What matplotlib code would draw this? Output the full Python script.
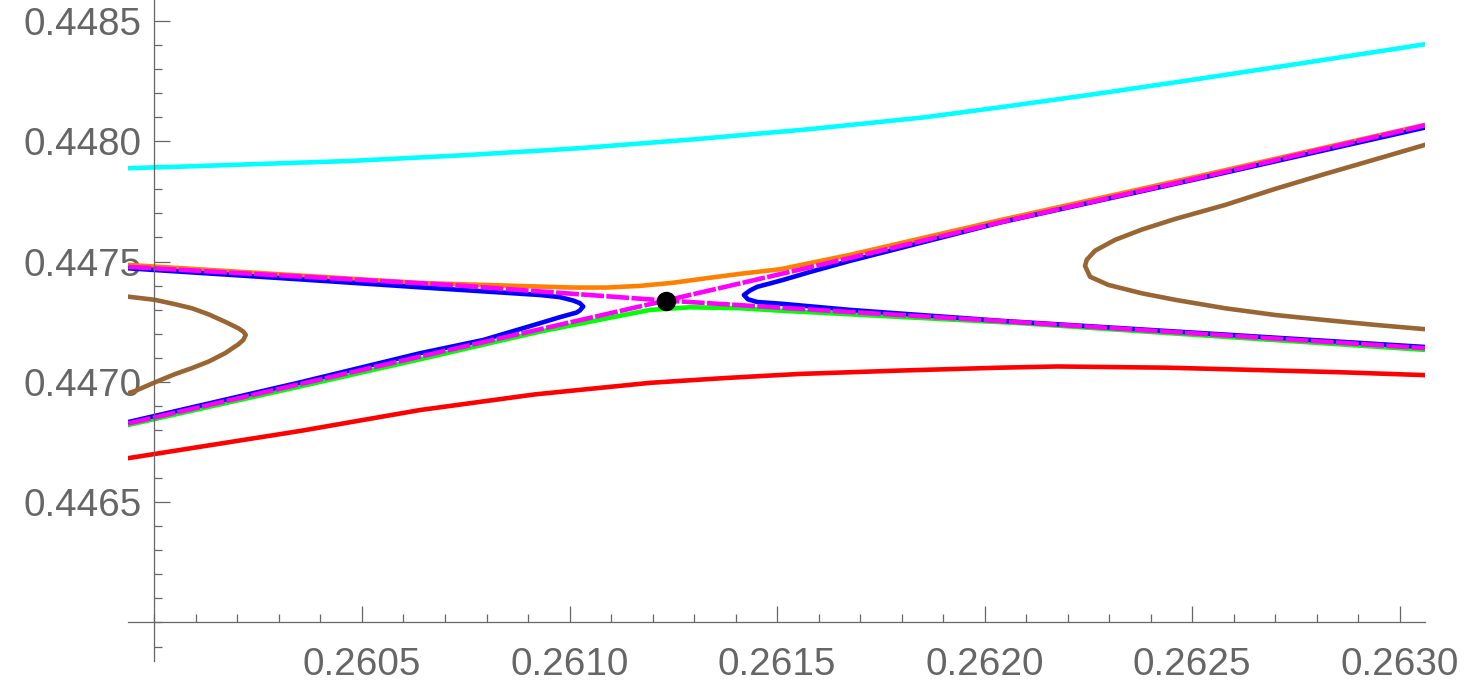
import numpy as np
import matplotlib
matplotlib.use('Agg')
import matplotlib.pyplot as plt
from matplotlib.ticker import FixedLocator, MultipleLocator, FormatStrFormatter

# curves (x, y pairs in plot units)
cyan_x = [0.259937, 0.260055, 0.260470, 0.260747, 0.261023, 0.261300, 0.261577,
          0.261853, 0.262037, 0.262278, 0.262519, 0.262760, 0.263061]
cyan_y = [0.447888, 0.447894, 0.447918, 0.447942, 0.447971, 0.448008, 0.448050,
          0.448099, 0.448141, 0.448199, 0.448260, 0.448323, 0.448403]

red_x = [0.259937, 0.260351, 0.260640, 0.260917, 0.261194, 0.261375, 0.261555, 0.261796,
         0.262037, 0.262175, 0.262440, 0.262640, 0.262857, 0.263061]
red_y = [0.446683, 0.446796, 0.446883, 0.446948, 0.446996, 0.447016, 0.447033, 0.447047,
         0.447059, 0.447064, 0.447059, 0.447050, 0.447040, 0.447028]

orange_x = [0.259937, 0.260351, 0.260640, 0.260929, 0.261009, 0.261090, 0.261170, 0.261250,
            0.261331, 0.261411, 0.261507, 0.261676, 0.262037, 0.262519, 0.263061]
orange_y = [0.447486, 0.447442, 0.447411, 0.447396, 0.447392, 0.447392, 0.447399, 0.447412,
            0.447431, 0.447449, 0.447468, 0.447528, 0.447672, 0.447856, 0.448068]

# blue: two branches, each traced from the upper end round the nose to the lower end
blue_left_x = [0.259937, 0.260351, 0.260640, 0.260929, 0.260977, 0.261009, 0.261025, 0.261033,
               0.261025, 0.261017, 0.260977, 0.260929, 0.260792, 0.260640, 0.260351, 0.259937]
blue_left_y = [0.447472, 0.447426, 0.447393, 0.447361, 0.447352, 0.447338, 0.447327, 0.447313,
               0.447297, 0.447288, 0.447269, 0.447244, 0.447174, 0.447119, 0.446998, 0.446833]
blue_right_x = [0.263061, 0.262519, 0.262037, 0.261676, 0.261580, 0.261515, 0.261483, 0.261452,
                0.261435, 0.261420, 0.261430, 0.261452, 0.261515, 0.261676, 0.262037, 0.262519,
                0.263061]
blue_right_y = [0.448057, 0.447846, 0.447662, 0.447503, 0.447457, 0.447424, 0.447409, 0.447395,
                0.447380, 0.447361, 0.447343, 0.447332, 0.447324, 0.447299, 0.447254, 0.447203,
                0.447145]

green_x = [0.259937, 0.260351, 0.260640, 0.260929, 0.261090, 0.261194, 0.261290, 0.261411,
           0.261507, 0.261796, 0.262086, 0.262519, 0.263061]
green_y = [0.446821, 0.446981, 0.447094, 0.447209, 0.447264, 0.447299, 0.447310, 0.447306,
           0.447296, 0.447270, 0.447244, 0.447194, 0.447133]

magenta_a_x = [0.259937, 0.260712, 0.261232, 0.261659, 0.262037, 0.263061]
magenta_a_y = [0.447478, 0.447403, 0.447338, 0.447292, 0.447253, 0.447140]
magenta_b_x = [0.259937, 0.260640, 0.261232, 0.261676, 0.262037, 0.262519, 0.263061]
magenta_b_y = [0.446827, 0.447105, 0.447338, 0.447515, 0.447663, 0.447849, 0.448066]

brown_left_x = [0.259937, 0.260001, 0.260049, 0.260090, 0.260130, 0.260170, 0.260202, 0.260214,
                0.260220, 0.260214, 0.260202, 0.260170, 0.260130, 0.260090, 0.260049, 0.260001,
                0.259953, 0.259937]
brown_left_y = [0.447354, 0.447341, 0.447323, 0.447306, 0.447281, 0.447250, 0.447223, 0.447209,
                0.447195, 0.447174, 0.447156, 0.447119, 0.447084, 0.447057, 0.447032, 0.446998,
                0.446962, 0.446953]
brown_right_x = [0.263061, 0.262940, 0.262820, 0.262700, 0.262579, 0.262459, 0.262379, 0.262314,
                 0.262266, 0.262246, 0.262242, 0.262254, 0.262298, 0.262379, 0.262459, 0.262579,
                 0.262700, 0.262820, 0.262940, 0.263061]
brown_right_y = [0.447985, 0.447924, 0.447864, 0.447802, 0.447735, 0.447677, 0.447633, 0.447590,
                 0.447545, 0.447507, 0.447482, 0.447437, 0.447403, 0.447368, 0.447341, 0.447306,
                 0.447278, 0.447257, 0.447237, 0.447219]

point_x = [0.261232]
point_y = [0.447338]

x_ticks = [0.2605, 0.2610, 0.2615, 0.2620, 0.2625, 0.2630]
y_ticks = [0.4465, 0.4470, 0.4475, 0.4480, 0.4485]
origin = (0.2600, 0.4460)

W, H = 1477, 689
fig = plt.figure(figsize=(W/100, H/100), dpi=100)
ax = fig.add_axes([128.3/W, 28/H, (1425 - 128.3)/W, 661/H])

lw = 3.3
kw = dict(lw=lw, solid_joinstyle='round')
ax.plot(cyan_x, cyan_y, color='#00FFFF', **kw)
ax.plot(red_x, red_y, color='#FF0000', **kw)
ax.plot(brown_left_x, brown_left_y, color='#996633', **kw)
ax.plot(brown_right_x, brown_right_y, color='#996633', **kw)
ax.plot(orange_x, orange_y, color='#FF8000', **kw)
ax.plot(green_x, green_y, color='#00FF00', **kw)
ax.plot(blue_left_x, blue_left_y, color='#0000FF', **kw)
ax.plot(blue_right_x, blue_right_y, color='#0000FF', **kw)
ax.plot(magenta_a_x, magenta_a_y, color='#FF00FF', lw=lw, dashes=(5, 0.5))
ax.plot(magenta_b_x, magenta_b_y, color='#FF00FF', lw=lw, dashes=(5, 0.5))
ax.plot(point_x, point_y, 'o', color='black', ms=13, zorder=5)

ax.set_xlim(0.259937, 0.263061)
ax.set_ylim(0.445840, 0.448587)

gray = '#666666'
for s in ('top', 'right'):
    ax.spines[s].set_visible(False)
ax.spines['left'].set_position(('data', origin[0]))
ax.spines['bottom'].set_position(('data', origin[1]))
for s in ('left', 'bottom'):
    ax.spines[s].set_color(gray)
    ax.spines[s].set_linewidth(0.9)

ax.xaxis.set_major_locator(FixedLocator(x_ticks))
ax.yaxis.set_major_locator(FixedLocator(y_ticks))
ax.xaxis.set_minor_locator(MultipleLocator(0.0001))
ax.yaxis.set_minor_locator(MultipleLocator(0.0001))
ax.xaxis.set_major_formatter(FormatStrFormatter('%.4f'))
ax.yaxis.set_major_formatter(FormatStrFormatter('%.4f'))

ax.tick_params(which='both', direction='in', color=gray, width=0.9)
ax.tick_params(which='major', length=11.3)
ax.tick_params(which='minor', length=6.0)
ax.tick_params(axis='x', which='major', pad=17.6, labelsize=27.8, labelcolor=gray)
ax.tick_params(axis='y', which='major', pad=9.5, labelsize=27.8, labelcolor=gray)
for lab in ax.get_xticklabels() + ax.get_yticklabels():
    lab.set_family('Liberation Sans')

fig.savefig('out.png', dpi=100)
